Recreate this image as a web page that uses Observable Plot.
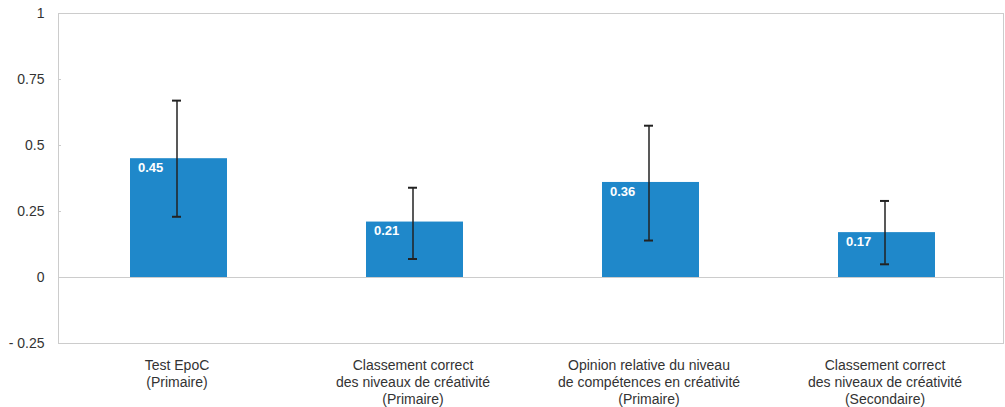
<!DOCTYPE html>
<html>
<head>
<meta charset="utf-8">
<script src="https://cdn.jsdelivr.net/npm/d3@7"></script>
<script src="https://cdn.jsdelivr.net/npm/@observablehq/plot@0.6"></script>
<style>
  html, body { margin: 0; padding: 0; background: #fff; }
  #chart svg { display: block; }
</style>
</head>
<body>
<div id="chart"></div>
<script>
// ---- data ----
const categories = [
  "Test EpoC\n(Primaire)",
  "Classement correct\ndes niveaux de créativité\n(Primaire)",
  "Opinion relative du niveau\nde compétences en créativité\n(Primaire)",
  "Classement correct\ndes niveaux de créativité\n(Secondaire)"
];
const values = [0.45, 0.21, 0.36, 0.17];
const errLow = [0.23, 0.07, 0.14, 0.05];
const errHigh = [0.67, 0.34, 0.575, 0.29];
const yTicks = [1, 0.75, 0.5, 0.25, 0, -0.25];

const data = categories.map((c, i) => ({cat: c, v: values[i], lo: errLow[i], hi: errHigh[i]}));

const W = 1005, H = 407;
const mL = 58, mR = 2, mT = 13, mB = 64;
const plotW = W - mL - mR;

const chart = Plot.plot({
  width: W,
  height: H,
  marginLeft: mL,
  marginRight: mR,
  marginTop: mT,
  marginBottom: mB,
  style: {fontFamily: "'Liberation Sans', Arial, Helvetica, sans-serif", fontSize: "13px", color: "#333", background: "#fff"},
  x: {domain: categories, paddingInner: 0.59, paddingOuter: 0.295},
  y: {domain: [-0.25, 1]},
  marks: [
    Plot.frame({stroke: "#cccccc"}),
    Plot.ruleY([0], {stroke: "#cccccc"}),
    Plot.tickY([0.75, 0.5, 0.25], {y: d => d, stroke: "#cccccc", insetRight: plotW - 3}),
    Plot.barY(data, {x: "cat", y: "v", fill: "#1f88ca", dx: 2}),
    Plot.ruleX(data, {x: "cat", y1: "lo", y2: "hi", stroke: "#222", strokeWidth: 1.5}),
    Plot.tickY(data, {x: "cat", y: "lo", stroke: "#222", strokeWidth: 2, insetLeft: 44, insetRight: 44}),
    Plot.tickY(data, {x: "cat", y: "hi", stroke: "#222", strokeWidth: 2, insetLeft: 44, insetRight: 44}),
    Plot.text(data, {x: "cat", y: "v", text: d => d.v.toFixed(2), fill: "#fff", fontWeight: "bold", fontSize: 13, textAnchor: "start", dx: -39, dy: 9}),
    Plot.axisY({ticks: yTicks, tickSize: 0, tickPadding: 14, tickFormat: d => d < 0 ? "- " + Math.abs(d) : String(d), fill: "#333", fontSize: 14, label: null}),
    Plot.axisX({tickSize: 0, tickPadding: 15, lineHeight: 1.2, fill: "#333", fontSize: 14, label: null})
  ]
});
document.getElementById("chart").appendChild(chart);
</script>
</body>
</html>
